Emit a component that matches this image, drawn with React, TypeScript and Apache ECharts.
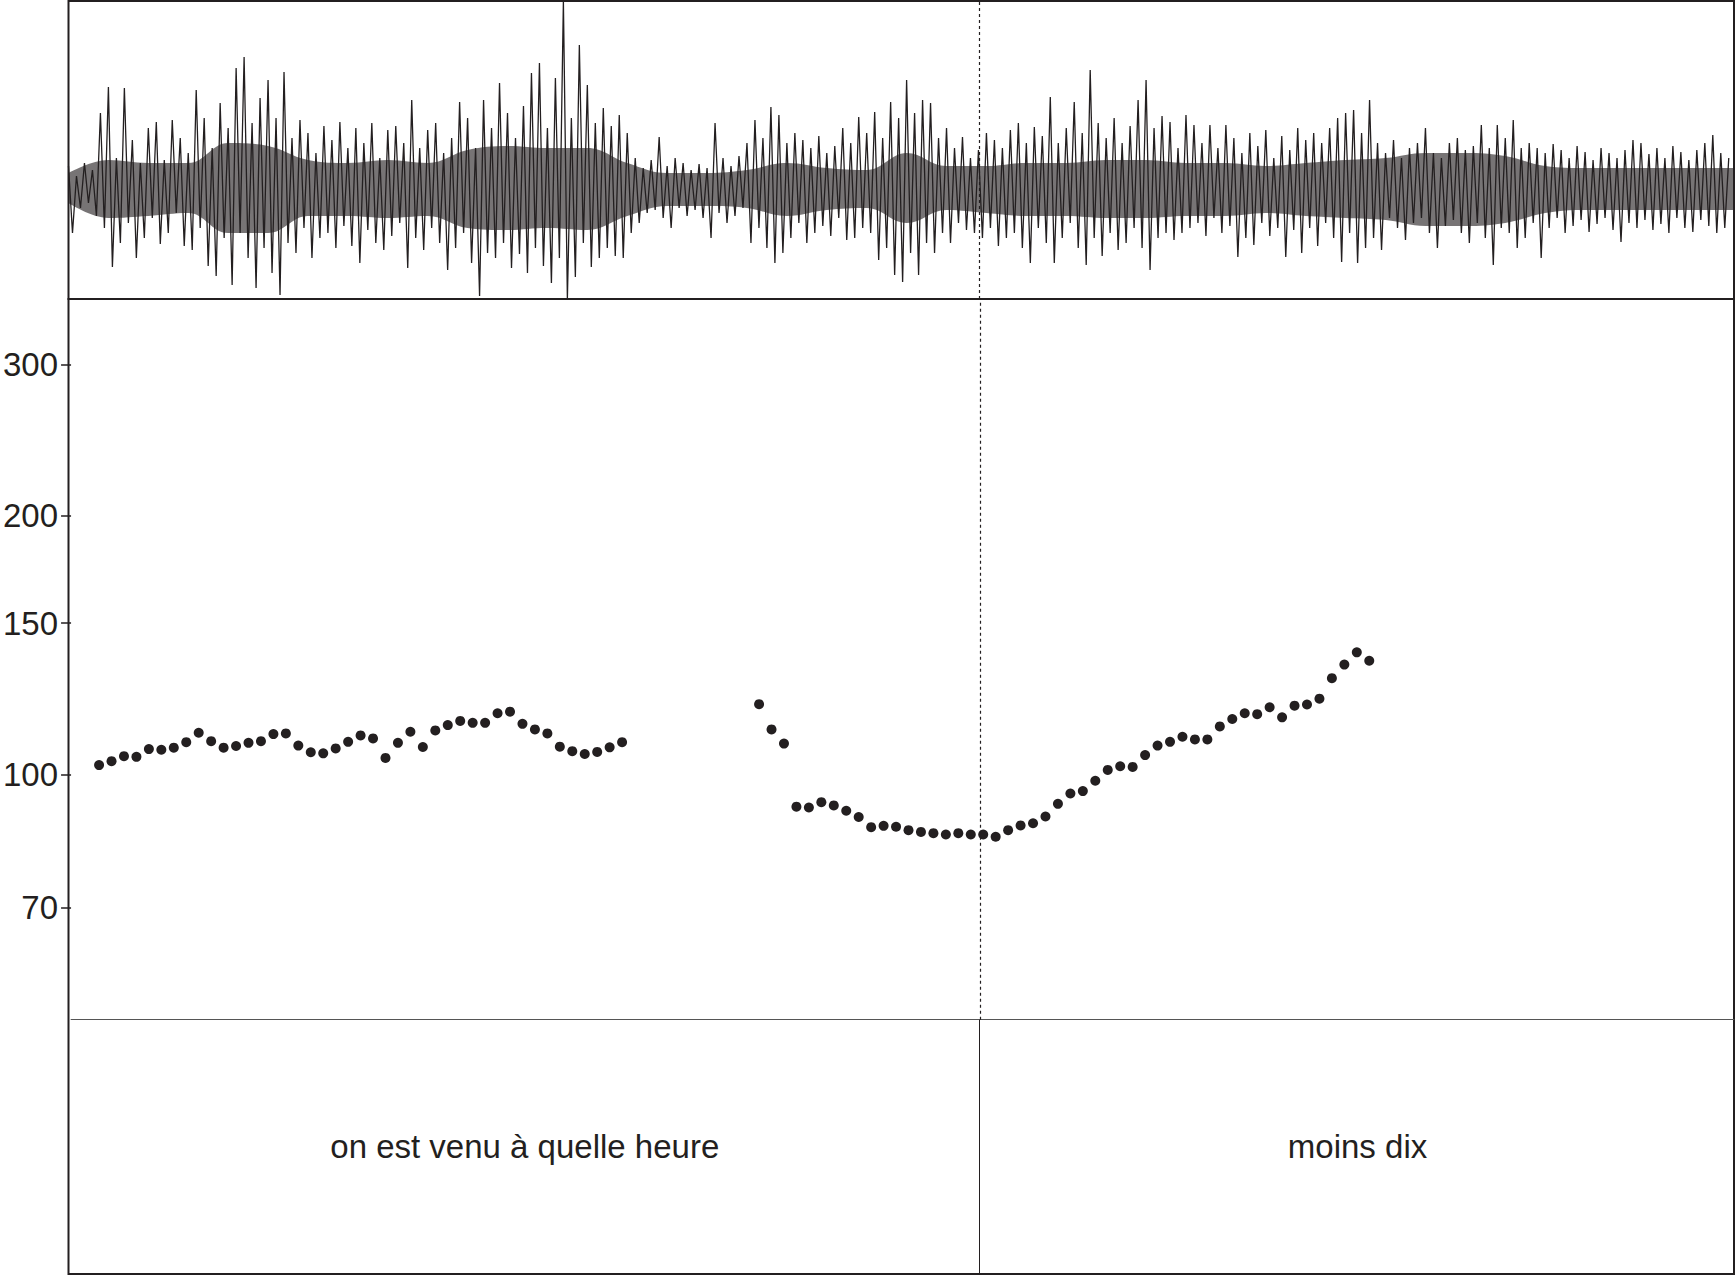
import React, { useEffect, useRef } from "react";
import * as echarts from "echarts";

// ---- time axis (seconds) ----
const TIME_MAX = 1.3354;
const BOUNDARY_TIME = 0.7317;
const TIER_BOUNDS = [0, BOUNDARY_TIME, TIME_MAX];
const TIER_LABELS = ["on est venu à quelle heure", "moins dix"];

// ---- pitch (Hz), log-scaled axis ----
const F0_MIN = 51.8;
const F0_MAX = 357.6;
const F0_TICKS = [70, 100, 150, 200, 300];

const PITCH_T0 = 0.0225;
const PITCH_STEP = 0.01;
const PITCH_SEG1_FIRST_FRAME = 0;
const PITCH_SEG1 = [
  102.5, 103.6, 105.0, 104.8, 107.0, 106.8, 107.4, 109.0, 111.8, 109.3,
  107.4, 107.9, 108.8, 109.3, 111.4, 111.6, 108.0, 106.1, 105.8, 107.2,
  109.1, 111.0, 110.1, 104.5, 108.8, 112.1, 107.6, 112.5, 114.1, 115.4,
  114.8, 114.8, 117.8, 118.3, 114.5, 112.8, 111.6, 107.7, 106.4, 105.6,
  106.2, 107.5, 109.0,
];
const PITCH_SEG2_FIRST_FRAME = 53;
const PITCH_SEG2 = [
  120.7, 112.8, 108.6, 91.7, 91.5, 92.8, 92.0, 90.7, 89.2, 86.8,
  87.1, 86.9, 86.1, 85.7, 85.4, 85.1, 85.4, 85.1, 85.1, 84.6,
  86.1, 87.2, 87.7, 89.3, 92.4, 95.0, 95.6, 98.3, 101.2, 102.2,
  102.0, 105.3, 108.0, 109.1, 110.6, 109.8, 109.8, 113.7, 116.0, 117.8,
  117.5, 119.7, 116.5, 120.2, 120.6, 122.5, 129.4, 134.2, 138.7, 135.6,
];

// ---- waveform (relative amplitude, sampled peaks) ----
const WAVE_STEP = 0.0032;
const WAVE_MIN = -111;
const WAVE_MAX = 187;
const WAVE_A = [22,-45,12,-20,25,-15,18,-28,75,-40,101,-79,30,-55,100,-35,48,-70,25,-50,60,-30,66,-56,28,-45,68,-25,50,-58,35,-62,98,-40,70,-78,40,-88,85,-50];
const WAVE_B = [60,-97,120,-45,131,-70,65,-100,90,-60,108,-85,70,-107,116,-55,50,-65,68,-40,55,-70,35,-50,62,-45,48,-60,66,-38,40,-58,60,-75,45,-42,65,-55,30,-62];
const WAVE_C = [58,-48,62,-35,45,-80,88,-50,40,-62,58,-40,65,-55,35,-82,50,-60,86,-45,70,-75,40,-108,88,-65,60,-70,105,-55,75,-80,50,-66,82,-85,115,-60,125,-78];
const WAVE_D = [60,-95,110,-70,187,-111,70,-89,143,-55,103,-79,65,-70,80,-60,62,-68,73,-70,55,-45,30,-35,20,-25,28,-22,51,-30,22,-40,30,-20,25,-28,18,-22,24,-30];
const WAVE_E = [20,-50,65,-25,30,-35,22,-28,32,-20,45,-55,68,-40,50,-60,81,-75,73,-65,45,-50,55,-35,48,-55,40,-45,52,-38,35,-48,42,-30,60,-52,45,-50,71,-40];
const WAVE_F = [55,-45,76,-72,50,-60,86,-87,70,-94,108,-65,75,-87,88,-55,85,-65,50,-45,60,-55,40,-35,51,-42,30,-45,38,-50,55,-40,48,-58,40,-50,58,-45,65,-60];
const WAVE_G = [45,-75,61,-40,52,-55,91,-75,45,-50,60,-35,86,-60,55,-77,118,-50,65,-68,50,-45,70,-62,45,-55,62,-40,88,-60,108,-82,60,-50,72,-45,66,-52,40,-45];
const WAVE_H = [73,-40,63,-35,45,-48,63,-30,40,-45,63,-38,50,-69,35,-50,55,-57,42,-35,58,-48,30,-40,52,-69,38,-42,60,-65,48,-40,55,-58,45,-35,60,-50,70,-74];
const WAVE_I = [75,-45,78,-75,55,-60,88,-50,45,-62,35,-30,48,-40,30,-52,40,-35,45,-30,60,-45,35,-60,30,-38,45,-32,50,-45,38,-55,42,-35,63,-50,40,-77,63,-40];
const WAVE_J = [50,-45,68,-60,40,-50,45,-35,40,-70,35,-40,44,-30,38,-45,30,-38,42,-32,36,-44,28,-36,40,-30,35,-42,30,-54,38,-35,48,-40,45,-32,34,-42,40,-36];
const WAVE_K = [30,-45,42,-30,36,-40,28,-44,38,-32,45,-38,53,-45,35,-40,30];

// dense dark core of the waveform (upper / lower edge, read every 0.032 s)
const WAVE_CORE_STEP = 0.032;
const WAVE_CORE_UP = [15,28,25,25,45,42,28,25,28,25,38,42,40,40,25,15,15,18,25,20,18,35,22,22,25,25,28,28,25,25,22,25,28,30,35,35,32,22,20,20,20,20,20];
const WAVE_CORE_DOWN = [-15,-30,-28,-25,-45,-45,-28,-28,-30,-28,-40,-42,-40,-42,-28,-18,-18,-20,-28,-22,-20,-35,-22,-25,-28,-28,-30,-30,-28,-28,-25,-28,-30,-32,-38,-38,-35,-25,-22,-22,-22,-22,-22];

const INK = "#231f20";
const FONT = "'Liberation Sans', Arial, Helvetica, sans-serif";

export default function App() {
  const ref = useRef<HTMLDivElement>(null);

  useEffect(() => {
    if (!ref.current) return;
    const chart = echarts.init(ref.current, undefined, { renderer: "svg" });

    const waveSamples = [
      ...WAVE_A, ...WAVE_B, ...WAVE_C, ...WAVE_D, ...WAVE_E, ...WAVE_F,
      ...WAVE_G, ...WAVE_H, ...WAVE_I, ...WAVE_J, ...WAVE_K,
    ];
    const waveData = waveSamples.map((v, i) => [i * WAVE_STEP, v]);
    const coreUp = WAVE_CORE_UP.map((v, i) => [i * WAVE_CORE_STEP, v]);
    const coreDown = WAVE_CORE_DOWN.map((v, i) => [i * WAVE_CORE_STEP, v]);

    const pitchData = [
      ...PITCH_SEG1.map((f, i) => [PITCH_T0 + (PITCH_SEG1_FIRST_FRAME + i) * PITCH_STEP, Math.log(f)]),
      ...PITCH_SEG2.map((f, i) => [PITCH_T0 + (PITCH_SEG2_FIRST_FRAME + i) * PITCH_STEP, Math.log(f)]),
    ];

    const tierData = TIER_LABELS.map((name, i) => ({
      name,
      value: [(TIER_BOUNDS[i] + TIER_BOUNDS[i + 1]) / 2, 0.5],
    }));

    const logTicks = F0_TICKS.map((v) => Math.log(v));
    const L = 68.5;
    const R = 2;

    const hiddenX = (gridIndex: number) => ({
      gridIndex, type: "value", min: 0, max: TIME_MAX, show: false,
    });

    const dottedBoundary = {
      silent: true,
      symbol: ["none", "none"],
      label: { show: false },
      lineStyle: { color: INK, width: 1.2, type: [3, 3], opacity: 1 },
      emphasis: { disabled: true },
      data: [{ xAxis: BOUNDARY_TIME }],
    };

    const coreSeries = (data: number[][]) => ({
      type: "line",
      xAxisIndex: 0, yAxisIndex: 0,
      data,
      smooth: 0.4,
      symbol: "none",
      silent: true,
      lineStyle: { opacity: 0, width: 0 },
      areaStyle: { color: INK, opacity: 0.62, origin: 0 },
    });

    const option: any = {
      animation: false,
      backgroundColor: "#ffffff",
      grid: [
        { left: L, right: R, top: 1, height: 298, show: true, borderColor: INK, borderWidth: 2, backgroundColor: "transparent" },
        { left: L, right: R, top: 299, height: 720.7 },
        { left: L, right: R, top: 1019.7, bottom: 2 },
        { left: L, right: R, top: 299, bottom: 2, show: true, borderColor: INK, borderWidth: 2, backgroundColor: "transparent" },
      ],
      xAxis: [
        hiddenX(0),
        {
          gridIndex: 1, type: "value", min: 0, max: TIME_MAX,
          axisLine: { show: true, onZero: false, lineStyle: { color: "#555555", width: 1 } },
          axisTick: { show: false },
          axisLabel: { show: false },
          splitLine: { show: false },
        },
        hiddenX(2),
        hiddenX(3),
      ],
      yAxis: [
        { gridIndex: 0, type: "value", min: WAVE_MIN, max: WAVE_MAX, show: false },
        {
          gridIndex: 1, type: "value",
          min: Math.log(F0_MIN), max: Math.log(F0_MAX),
          axisLine: { show: false },
          axisTick: { show: true, length: 10, customValues: logTicks, lineStyle: { color: INK, width: 1.5 } },
          axisLabel: {
            show: true, customValues: logTicks,
            formatter: (v: number) => String(Math.round(Math.exp(v))),
            fontSize: 33, color: INK, fontFamily: FONT, margin: 13,
          },
          splitLine: { show: false },
        },
        { gridIndex: 2, type: "value", min: 0, max: 1, show: false },
        { gridIndex: 3, type: "value", min: 0, max: 1, show: false },
      ],
      series: [
        coreSeries(coreUp),
        coreSeries(coreDown),
        {
          type: "line",
          xAxisIndex: 0, yAxisIndex: 0,
          data: waveData,
          showSymbol: false,
          symbol: "none",
          silent: true,
          lineStyle: { color: INK, width: 1.3 },
          markLine: dottedBoundary,
        },
        {
          type: "scatter",
          xAxisIndex: 1, yAxisIndex: 1,
          data: pitchData,
          symbol: "circle",
          symbolSize: 10,
          silent: true,
          itemStyle: { color: INK, opacity: 1 },
          markLine: dottedBoundary,
        },
        {
          type: "scatter",
          xAxisIndex: 2, yAxisIndex: 2,
          data: tierData,
          symbolSize: 1,
          silent: true,
          itemStyle: { color: "transparent", opacity: 1 },
          label: {
            show: true, position: "inside", formatter: "{b}",
            fontSize: 33, color: INK, fontFamily: FONT, opacity: 1,
          },
          markLine: {
            silent: true,
            symbol: ["none", "none"],
            label: { show: false },
            lineStyle: { color: INK, width: 1, type: "solid", opacity: 1 },
            data: [{ xAxis: TIER_BOUNDS[1] }],
          },
        },
      ],
    };

    chart.setOption(option);
    return () => chart.dispose();
  }, []);

  return (
    <div
      ref={ref}
      style={{ position: "fixed", left: 0, top: 0, width: "1736px", height: "1276px", background: "#fff" }}
    />
  );
}
